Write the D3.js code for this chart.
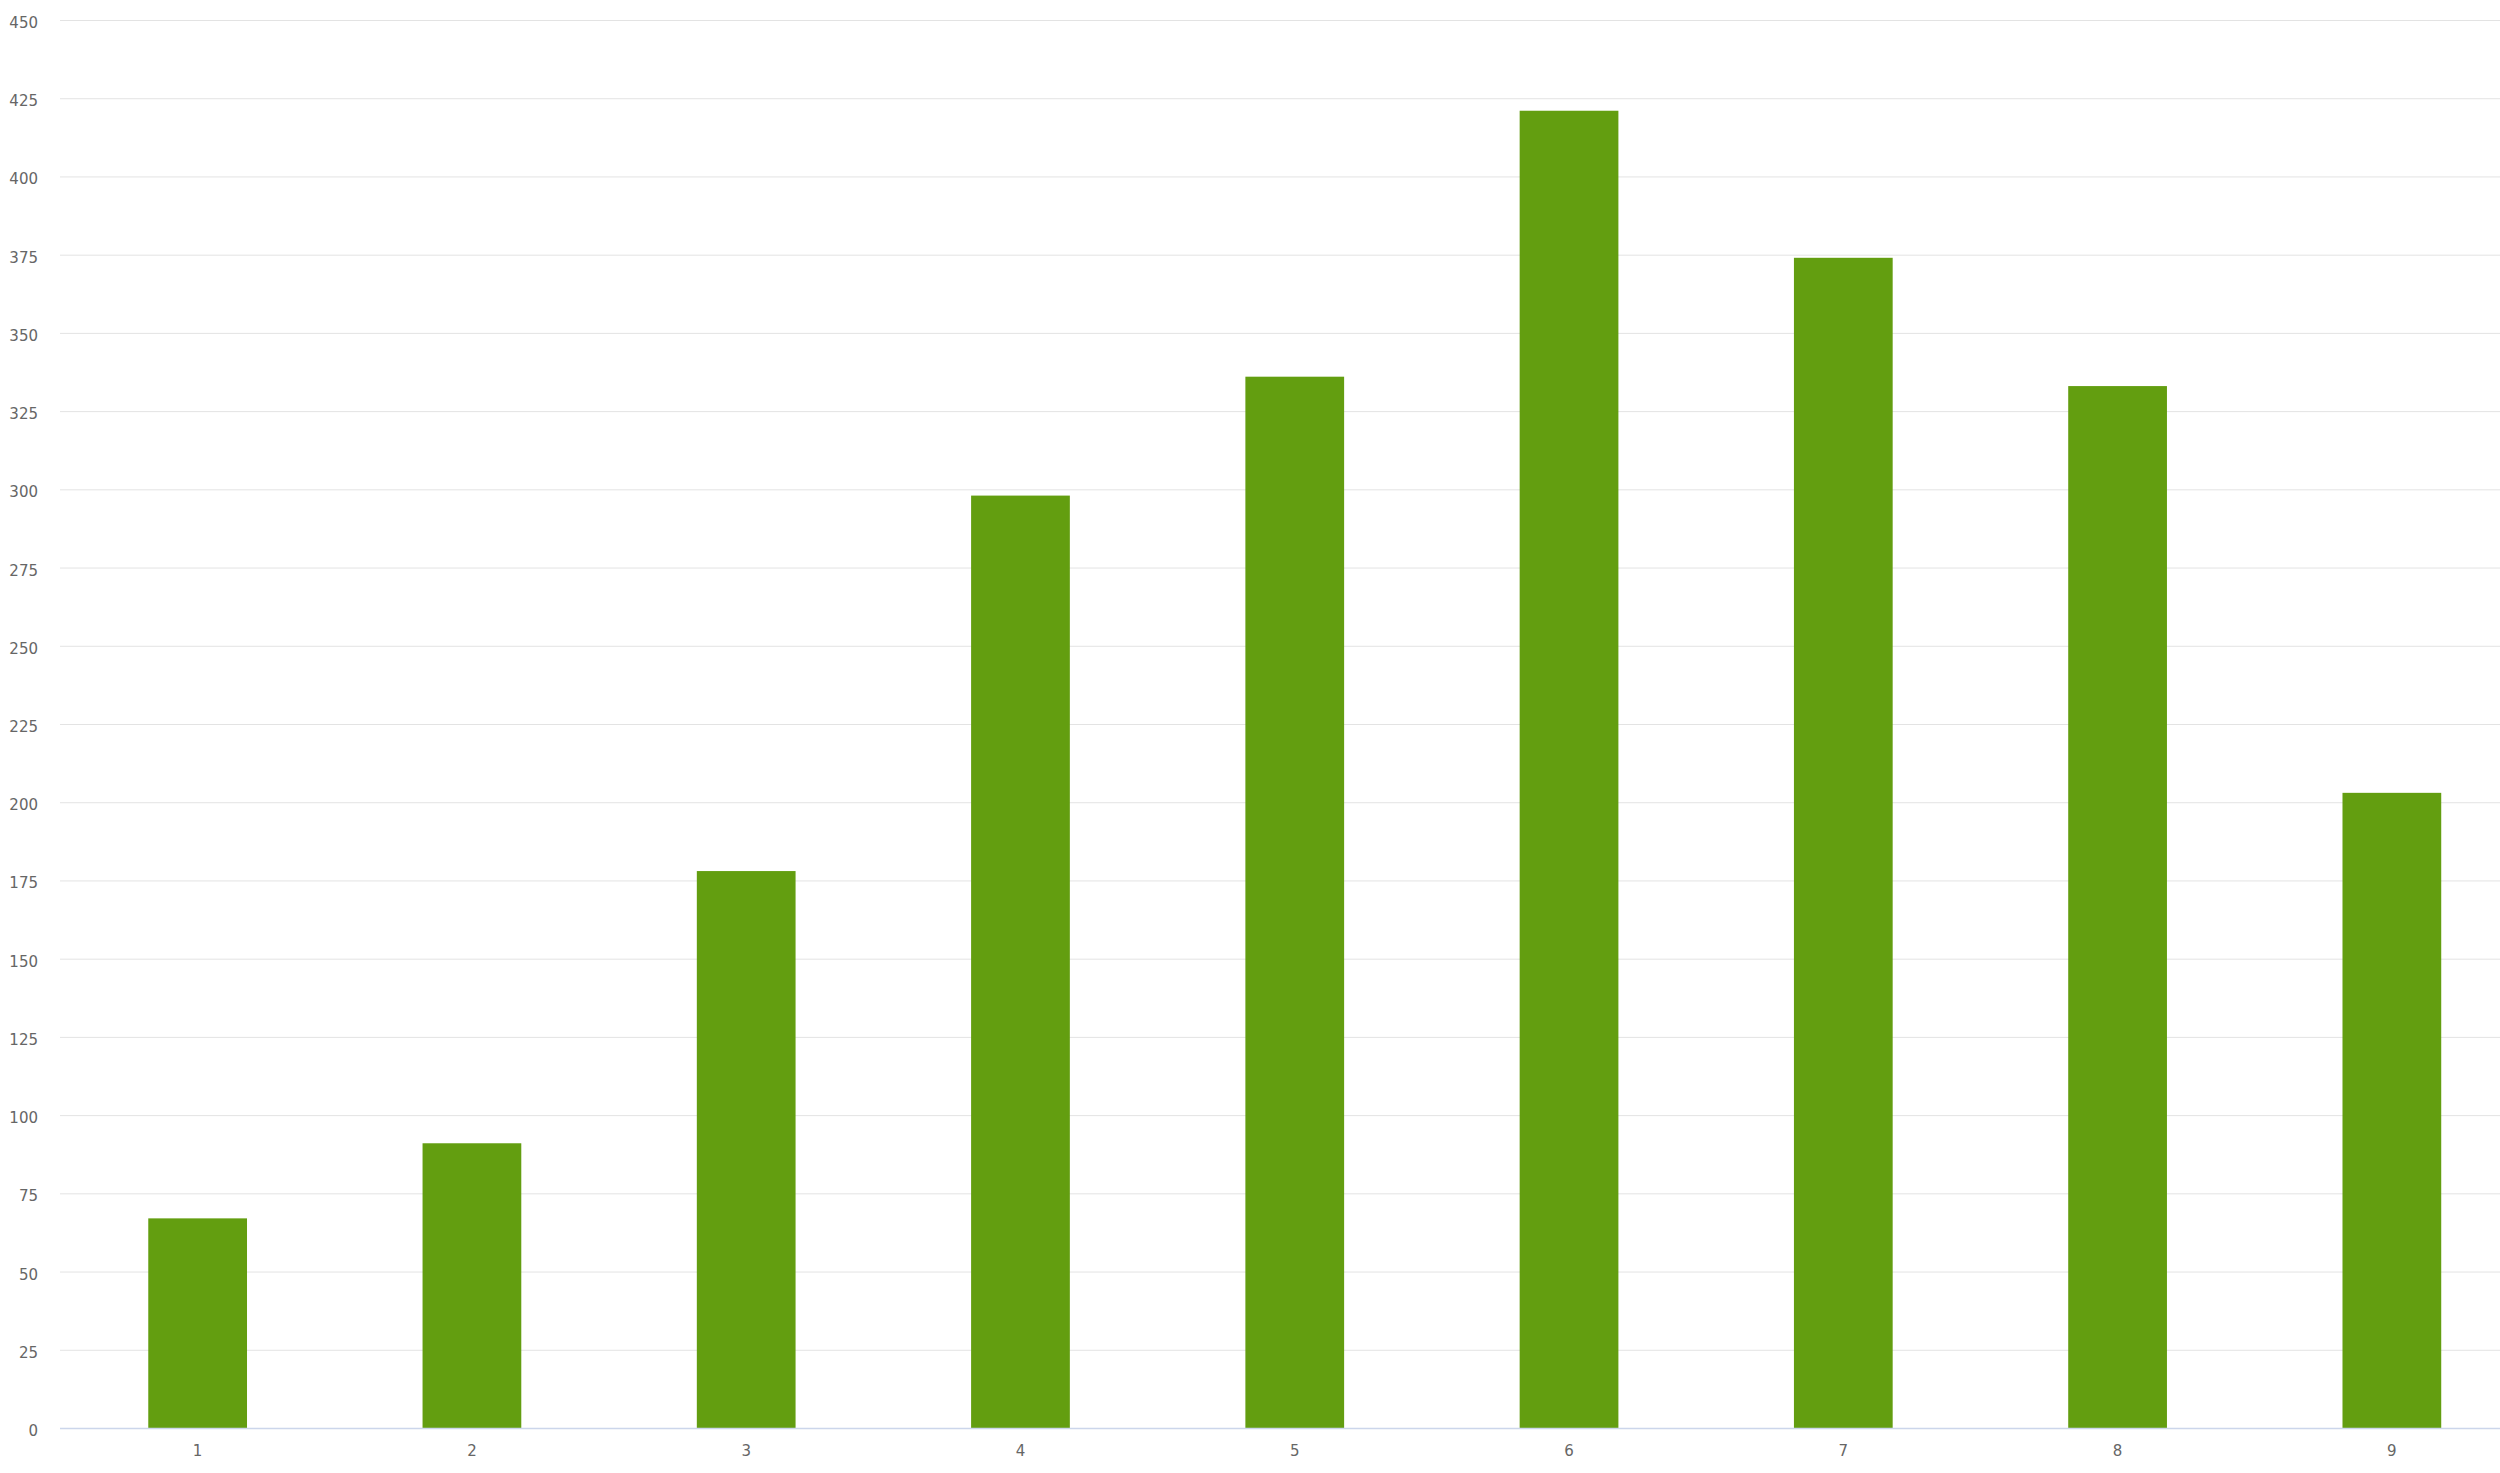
<!DOCTYPE html>
<html>
<head>
<meta charset="utf-8">
<script src="https://cdn.jsdelivr.net/npm/d3@7"></script>
<style>
  html, body { margin: 0; padding: 0; background: #fff; overflow: hidden; }
</style>
</head>
<body>
<div id="chart"></div>
<script>
// chart values
const categories = ["1", "2", "3", "4", "5", "6", "7", "8", "9"];
const values = [67, 91, 178, 298, 336, 421, 374, 333, 203];
const yTicks = [0, 25, 50, 75, 100, 125, 150, 175, 200, 225, 250, 275, 300, 325, 350, 375, 400, 425, 450];

const width = 2500;
const height = 1473;
const barColor = "#639e10";

let svg = d3.select("#chart")
    .append("svg")
    .attr("width", width)
    .attr("height", height);

// plot area (the band range runs a bit past the right edge, as in the original)
let x = d3.scaleBand()
    .domain(categories)
    .range([60.5, 2529])
    .paddingInner(0.64)
    .paddingOuter(0.32);

let y = d3.scaleLinear()
    .domain([0, 450])
    .range([1428, 20]);

// gridlines + y labels
let yAxis = d3.axisLeft(y)
    .tickValues(yTicks)
    .tickSize(-(width - 60))
    .tickPadding(22);

let gy = svg.append("g")
    .attr("transform", "translate(60,0)")
    .call(yAxis);

gy.select(".domain").remove();
gy.selectAll(".tick line")
    .attr("stroke", "#e3e3e3")
    .attr("stroke-width", 1);
gy.selectAll(".tick text")
    .attr("fill", "#666666")
    .attr("dy", "0.5em")
    .style("font-family", "'DejaVu Sans', sans-serif")
    .style("font-size", "15px");

// bars
svg.append("g")
    .selectAll("rect")
    .data(values)
    .enter()
    .append("rect")
        .attr("x", (d, i) => x(categories[i]))
        .attr("y", d => y(d))
        .attr("width", x.bandwidth())
        .attr("height", d => y(0) - y(d))
        .attr("fill", barColor);

// x axis baseline and labels
let xAxis = d3.axisBottom(x)
    .tickSize(0)
    .tickPadding(17);

let gx = svg.append("g")
    .attr("transform", "translate(0," + y(0) + ")")
    .call(xAxis);

gx.select(".domain").remove();
gx.append("line")
    .attr("x1", 60)
    .attr("x2", width)
    .attr("y1", 0.5)
    .attr("y2", 0.5)
    .attr("stroke", "#ccd6eb")
    .attr("stroke-width", 1.5);
gx.selectAll(".tick text")
    .attr("fill", "#666666")
    .style("font-family", "'DejaVu Sans', sans-serif")
    .style("font-size", "15px");
</script>
</body>
</html>
